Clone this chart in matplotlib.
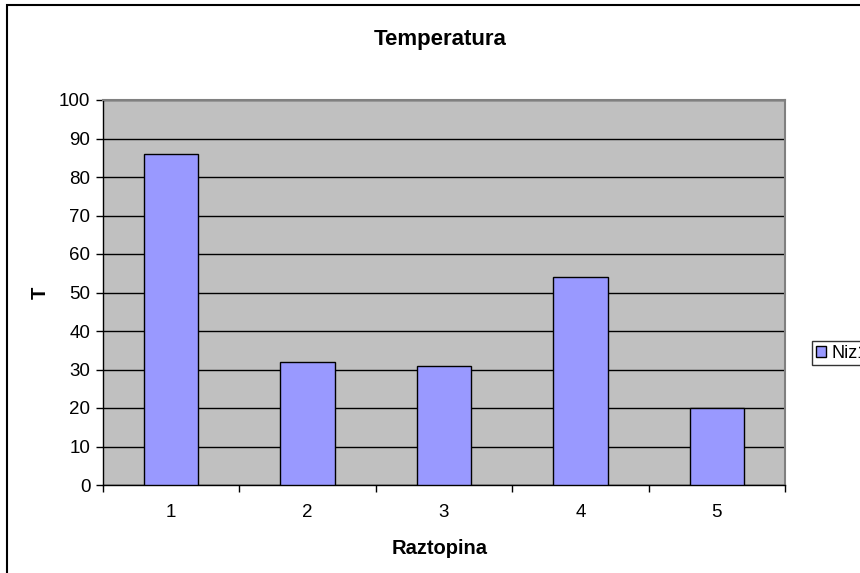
import matplotlib.pyplot as plt
from matplotlib.patches import Rectangle

# data
categories = ['1', '2', '3', '4', '5']
values = [86, 32, 31, 54, 20]
series_name = 'Niz1'

plt.rcParams['font.family'] = ['Liberation Sans', 'DejaVu Sans']

fig = plt.figure(figsize=(8.6, 5.73), dpi=100)
ax = fig.add_axes([103/860, 1 - 485/573, 682/860, 385/573])

# chart border (runs off the right and bottom edge like the original)
fig.patches.append(Rectangle((7/860, -0.2), 1.2, 1.2 - 5/573,
                             transform=fig.transFigure, fill=False,
                             edgecolor='black', linewidth=1.5))

ax.set_facecolor('#C0C0C0')
x = range(len(categories))
ax.bar(x, values, width=0.4, color='#9999FF', edgecolor='black',
       linewidth=1, label=series_name, zorder=3)

ax.set_xlim(-0.5, len(categories) - 0.5)
ax.set_ylim(0, 100)
ax.set_yticks(range(0, 101, 10))
ax.yaxis.grid(True, color='black', linewidth=1, zorder=1)
ax.set_axisbelow(True)

# ticks on category boundaries, labels at the centres
ax.set_xticks([i - 0.5 for i in range(len(categories) + 1)])
ax.set_xticklabels([])
ax.set_xticks(list(x), minor=True)
ax.set_xticklabels(categories, minor=True)
ax.tick_params(axis='x', which='major', length=5, width=1, direction='out')
ax.tick_params(axis='x', which='minor', length=0, pad=14, labelsize=13.5)
ax.tick_params(axis='y', length=5, width=1, direction='out', pad=4, labelsize=13.5)

for s in ['left', 'bottom']:
    ax.spines[s].set_color('black')
    ax.spines[s].set_linewidth(1)
for s in ['top', 'right']:
    ax.spines[s].set_color('#808080')
    ax.spines[s].set_linewidth(1.5)

fig.text(440/860, 1 - 40/573, 'Temperatura', ha='center', va='center',
         fontsize=16, fontweight='bold')
fig.text(440/860, 1 - 549/573, 'Raztopina', ha='center', va='center',
         fontsize=14.5, fontweight='bold')
fig.text(40/860, 1 - 293/573, 'T', ha='center', va='center',
         fontsize=14.5, fontweight='bold', rotation=90)

fig.legend(loc='upper left', bbox_to_anchor=(812/860, 1 - 341/573),
           frameon=True, fancybox=False, edgecolor='black', fontsize=13,
           handlelength=0.6, handleheight=0.6, handletextpad=0.3,
           borderpad=0.2, borderaxespad=0)

fig.savefig('out.png', dpi=100)
